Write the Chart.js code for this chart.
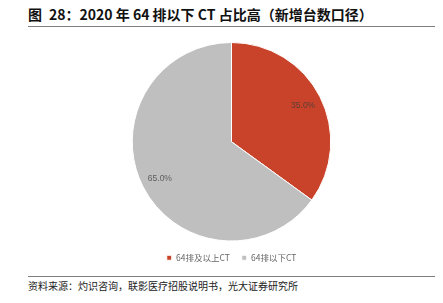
<!DOCTYPE html>
<html>
<head>
<meta charset="utf-8">
<script src="https://cdn.jsdelivr.net/npm/chart.js@4/dist/chart.umd.min.js"></script>
<style>
  body { margin: 0; background: #fff; width: 443px; height: 303px; position: relative; overflow: hidden;
         font-family: "Noto Sans CJK SC", "Noto Sans", sans-serif; }
  #title { position: absolute; left: 28px; top: 4px; width: 407px; height: 22px; border-bottom: 1px solid #7f7f7f;
           font-size: 14px; font-weight: bold; color: #111; line-height: 20px; }
  #chartBox { position: absolute; left: 28px; top: 32px; width: 407px; height: 240px; }
  #source { position: absolute; left: 28px; top: 276px; width: 407px; border-top: 1px solid #7f7f7f;
            font-size: 10px; color: #222; line-height: 18px; }
</style>
</head>
<body>
<div id="title">图&ensp;28：2020 年 64 排以下 CT 占比高（新增台数口径）</div>
<div id="chartBox"><canvas id="pie"></canvas></div>
<div id="source">资料来源：灼识咨询，联影医疗招股说明书，光大证券研究所</div>
<script>
// categories and shares
var labels = ["64排及以上CT", "64排以下CT"];
var shares = [35.0, 65.0];
var colors = ["#c8432a", "#bfbfbf"];

// draw the percent labels inside slices
var sliceLabels = {
  id: "sliceLabels",
  afterDatasetsDraw: function(chart) {
    var ctx = chart.ctx;
    var meta = chart.getDatasetMeta(0);
    ctx.save();
    ctx.font = "8.5px 'Liberation Sans', Arial, sans-serif";
    ctx.fillStyle = "rgba(60,60,60,0.75)";
    ctx.textAlign = "center";
    ctx.textBaseline = "middle";
    meta.data.forEach(function(arc, i) {
      var mid = (arc.startAngle + arc.endAngle) / 2;
      var r = arc.outerRadius * 0.81;
      ctx.fillText(shares[i].toFixed(1) + "%", arc.x + Math.cos(mid) * r, arc.y + Math.sin(mid) * r);
    });
    ctx.restore();
  }
};

new Chart(document.getElementById("pie"), {
  type: "pie",
  data: {
    labels: labels,
    datasets: [{
      data: shares,
      backgroundColor: colors,
      borderColor: "#ffffff",
      borderWidth: 1
    }]
  },
  options: {
    responsive: true,
    maintainAspectRatio: false,
    animation: false,
    layout: { padding: { top: 10, bottom: 0 } },
    plugins: {
      tooltip: { enabled: false },
      legend: {
        position: "bottom",
        labels: {
          boxWidth: 5,
          boxHeight: 5,
          padding: 12,
          color: "#666666",
          font: { size: 8.5, family: "'Noto Sans CJK SC', sans-serif" }
        }
      }
    }
  },
  plugins: [sliceLabels]
});
</script>
</body>
</html>
